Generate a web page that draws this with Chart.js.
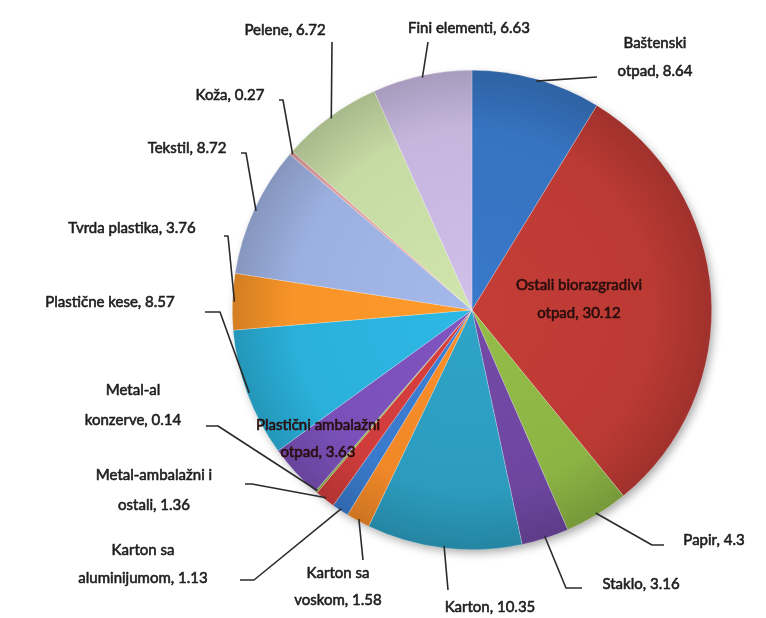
<!DOCTYPE html>
<html>
<head>
<meta charset="utf-8">
<title>Sastav otpada</title>
<script src="https://cdn.jsdelivr.net/npm/chart.js@4/dist/chart.umd.min.js"></script>
<style>
  html, body { margin: 0; padding: 0; background: #fff; }
  #wrap { width: 766px; height: 618px; }
</style>
</head>
<body>
<div id="wrap"><canvas id="otpad-chart" width="766" height="618"></canvas></div>
<script>
// Kategorije otpada (prelom reda = "\n") i udeli u %
const kategorije = [
  "Baštenski\notpad", "Ostali biorazgradivi\notpad", "Papir", "Staklo", "Karton",
  "Karton sa\nvoskom", "Karton sa\naluminijumom", "Metal-ambalažni i\nostali",
  "Metal-al\nkonzerve", "Plastični ambalažni\notpad", "Plastične kese",
  "Tvrda plastika", "Tekstil", "Koža", "Pelene", "Fini elementi"
];
const udeli = [8.64, 30.12, 4.3, 3.16, 10.35, 1.58, 1.13, 1.36, 0.14, 3.63, 8.57, 3.76, 8.72, 0.27, 6.72, 6.63];
const boje = [
  "#3673c0", "#bc3a34", "#8cb444", "#6e46a0", "#2c9cbe", "#f08828", "#3a7acc", "#d03c3c",
  "#88b040", "#7a50b8", "#2ab0da", "#f89428", "#9cb0e0", "#e0a0a0", "#c6daa4", "#c6b6de"
];

// Raspored natpisa: centar teksta, visina reda, tačke linije od isečka ka natpisu
const natpisi = [
  { x: 655, y: 43, lh: 28, linija: [[597, 77]] },
  { x: 579, y: 285, lh: 28, unutra: true },
  { x: 714, y: 540, lh: 28, linija: [[652, 545], [664, 545]] },
  { x: 641, y: 584, lh: 28, linija: [[566, 588], [582, 588]] },
  { x: 490, y: 607, lh: 28, linija: [[448, 590]] },
  { x: 338, y: 573, lh: 27, linija: [[363, 560]] },
  { x: 143, y: 550, lh: 28, linija: [[254, 580], [240, 580]] },
  { x: 154, y: 475, lh: 30, linija: [[252, 484], [245, 484]] },
  { x: 133, y: 390, lh: 30, linija: [[218, 426], [206, 426]] },
  { x: 318, y: 425, lh: 27, unutra: true },
  { x: 110, y: 302, lh: 28, linija: [[220, 312], [205, 312]] },
  { x: 132, y: 228, lh: 28, linija: [[228, 236], [224, 236]] },
  { x: 187, y: 148, lh: 28, linija: [[246, 153], [241, 153]] },
  { x: 230, y: 95, lh: 28, linija: [[283, 100], [279, 100]] },
  { x: 285, y: 30, lh: 28, linija: [[332, 42]] },
  { x: 469, y: 28, lh: 28, linija: [[428, 42]] }
];

function potamni(hex, f) {
  const n = parseInt(hex.slice(1), 16);
  const r = Math.round(((n >> 16) & 255) * f);
  const g = Math.round(((n >> 8) & 255) * f);
  const b = Math.round((n & 255) * f);
  return `rgb(${Math.min(r, 255)},${Math.min(g, 255)},${Math.min(b, 255)})`;
}

// Senka ispod cele pite
const senka = {
  id: "senka",
  beforeDatasetsDraw(chart) {
    const arc = chart.getDatasetMeta(0).data[0];
    if (!arc) return;
    const { x, y, outerRadius } = arc.getProps(["x", "y", "outerRadius"], true);
    const ctx = chart.ctx;
    ctx.save();
    ctx.shadowColor = "rgba(0,0,0,0.35)";
    ctx.shadowBlur = 10;
    ctx.shadowOffsetX = 3;
    ctx.shadowOffsetY = 4;
    ctx.fillStyle = "#fff";
    ctx.beginPath();
    ctx.arc(x, y, outerRadius - 1, 0, Math.PI * 2);
    ctx.fill();
    ctx.restore();
  }
};

// Natpisi sa linijama vodiljama
const natpisiPlugin = {
  id: "natpisi",
  afterDatasetsDraw(chart) {
    const ctx = chart.ctx;
    const meta = chart.getDatasetMeta(0);
    ctx.save();
    ctx.font = "15px Lato";
    ctx.textAlign = "center";
    ctx.textBaseline = "middle";
    ctx.lineJoin = "round";
    meta.data.forEach((arc, i) => {
      const p = arc.getProps(["x", "y", "startAngle", "endAngle", "outerRadius"], true);
      const sred = (p.startAngle + p.endAngle) / 2;
      const n = natpisi[i];
      if (n.linija) {
        ctx.strokeStyle = "#2b2b2b";
        ctx.lineWidth = 1.6;
        ctx.beginPath();
        ctx.moveTo(p.x + Math.cos(sred) * (p.outerRadius - 2), p.y + Math.sin(sred) * (p.outerRadius - 2));
        n.linija.forEach(([lx, ly]) => ctx.lineTo(lx, ly));
        ctx.stroke();
      }
      const redovi = (kategorije[i] + ", " + udeli[i]).split("\n");
      const boja = n.unutra ? "#2a0e0e" : "#1e1e1e";
      ctx.fillStyle = boja;
      ctx.strokeStyle = boja;
      ctx.lineWidth = 0.6;
      redovi.forEach((r, k) => {
        ctx.fillText(r, n.x, n.y + k * n.lh);
        ctx.strokeText(r, n.x, n.y + k * n.lh);
      });
    });
    ctx.restore();
  }
};

const ctx = document.getElementById("otpad-chart").getContext("2d");
new Chart(ctx, {
  type: "pie",
  data: {
    labels: kategorije,
    datasets: [
      {
        data: udeli,
        backgroundColor: (c) => {
          const area = c.chart.chartArea;
          if (!area) return boje[c.dataIndex];
          const cx = (area.left + area.right) / 2;
          const cy = (area.top + area.bottom) / 2;
          const r = Math.min(area.right - area.left, area.bottom - area.top) / 2;
          const g = c.chart.ctx.createRadialGradient(cx, cy, 0, cx, cy, r);
          const b = boje[c.dataIndex];
          g.addColorStop(0, potamni(b, 1.05));
          g.addColorStop(0.75, b);
          g.addColorStop(1, potamni(b, 0.85));
          return g;
        },
        borderColor: "rgba(255,255,255,0.35)",
        borderWidth: 0.6,
      },
    ],
  },
  options: {
    responsive: false,
    animation: false,
    layout: { padding: { left: 232, right: 54, top: 70, bottom: 68 } },
    plugins: {
      legend: { display: false },
      tooltip: { enabled: false },
    },
  },
  plugins: [senka, natpisiPlugin],
});
</script>
</body>
</html>
